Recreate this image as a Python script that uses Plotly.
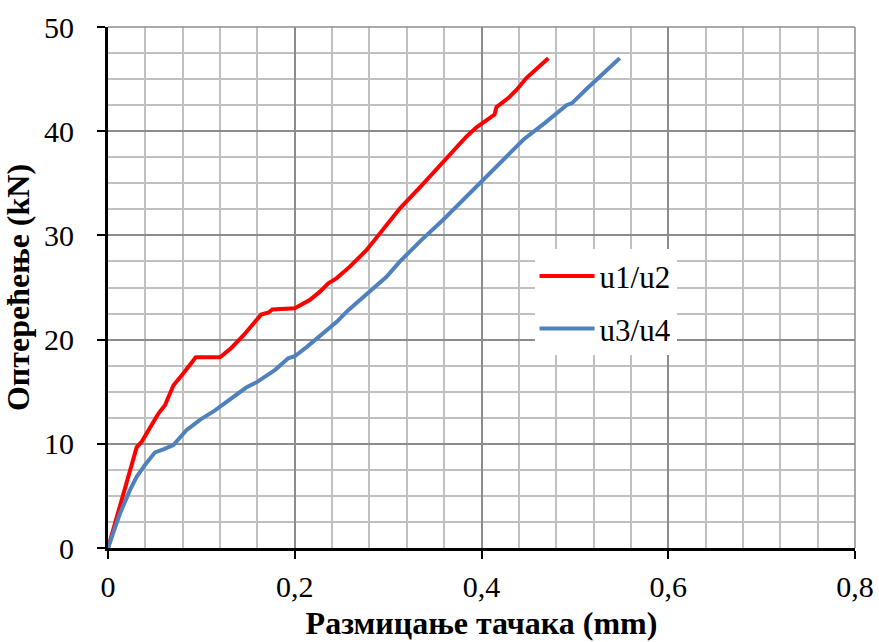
import plotly.graph_objects as go

# Load–displacement readings for the two gauge pairs
u12_disp = [0.0, 0.0234, 0.0307, 0.036, 0.043, 0.054, 0.061, 0.070, 0.081, 0.088, 0.094,
            0.120, 0.132, 0.145, 0.154, 0.164, 0.172, 0.176, 0.200, 0.216, 0.227, 0.236,
            0.245, 0.259, 0.277, 0.295, 0.3127, 0.336, 0.359, 0.384, 0.395, 0.411, 0.414,
            0.416, 0.422, 0.429, 0.438, 0.448, 0.4716]
u12_load = [0.0, 7.17, 9.66, 10.2, 11.3, 12.9, 13.7, 15.6, 16.8, 17.6, 18.3,
            18.3, 19.2, 20.4, 21.3, 22.4, 22.6, 22.9, 23.0, 23.8, 24.6, 25.4,
            25.9, 27.0, 28.6, 30.6, 32.6, 34.8, 37.1, 39.5, 40.4, 41.4, 41.6,
            42.3, 42.7, 43.2, 44.0, 45.1, 47.0]

u34_disp = [0.0, 0.0129, 0.0236, 0.0307, 0.0396, 0.0503, 0.0592, 0.070, 0.084, 0.0985,
            0.1146, 0.127, 0.141, 0.148, 0.159, 0.179, 0.193, 0.200, 0.213, 0.227, 0.245,
            0.257, 0.277, 0.298, 0.3127, 0.335, 0.359, 0.398, 0.420, 0.445, 0.468, 0.491,
            0.497, 0.513, 0.548]
u34_load = [0.0, 3.33, 5.57, 6.84, 7.97, 9.18, 9.47, 9.88, 11.3, 12.3,
            13.2, 14.0, 15.0, 15.4, 15.9, 17.1, 18.2, 18.4, 19.3, 20.4, 21.7,
            22.8, 24.4, 26.0, 27.5, 29.5, 31.5, 35.0, 36.9, 39.2, 40.8, 42.5,
            42.7, 44.1, 47.0]

x_ticks = [0, 0.2, 0.4, 0.6, 0.8]
x_tick_text = ["0", "0,2", "0,4", "0,6", "0,8"]
y_ticks = [0, 10, 20, 30, 40, 50]

FONT = "Liberation Serif"

fig = go.Figure()
fig.add_trace(go.Scatter(x=u12_disp, y=u12_load, mode="lines", name="u1/u2",
                         legendgroup="a",
                         line=dict(color="#FF0000", width=4)))
fig.add_trace(go.Scatter(x=u34_disp, y=u34_load, mode="lines", name="u3/u4",
                         legendgroup="b",
                         line=dict(color="#4F81BD", width=4)))

fig.update_layout(
    width=879, height=642,
    margin=dict(l=108, r=24, t=27, b=94, autoexpand=False),
    paper_bgcolor="white", plot_bgcolor="white",
    font=dict(family=FONT, size=30, color="black"),
    showlegend=True,
    legend=dict(x=0.571, y=0.573, xanchor="left", yanchor="top",
                bgcolor="white", borderwidth=0,
                font=dict(family=FONT, size=31, color="black"),
                tracegroupgap=9, itemwidth=55),
)

fig.update_xaxes(
    range=[0, 0.8], tickvals=x_ticks, ticktext=x_tick_text,
    showgrid=True, gridcolor="#8c8c8c", gridwidth=1.5,
    minor=dict(dtick=0.04, showgrid=True, gridcolor="#c0c0c0", gridwidth=1.5),
    showline=True, linecolor="black", linewidth=3,
    ticks="outside", ticklen=8, tickwidth=2, tickcolor="black",
    ticklabelstandoff=2,
    zeroline=False, automargin=False,
    tickfont=dict(family=FONT, size=30),
    title=dict(text="<b>Размицање тачака (mm)</b>", standoff=10,
               font=dict(family=FONT, size=32)),
)
fig.update_yaxes(
    range=[0, 50], tickvals=y_ticks,
    showgrid=True, gridcolor="#8c8c8c", gridwidth=1.5,
    minor=dict(dtick=2.5, showgrid=True, gridcolor="#c0c0c0", gridwidth=1.5),
    showline=True, linecolor="black", linewidth=3,
    ticks="outside", ticklen=8, tickwidth=2, tickcolor="black",
    ticklabelstandoff=17,
    zeroline=False, automargin=False,
    tickfont=dict(family=FONT, size=30),
    title=dict(text="<b>Оптерећење (kN)</b>", standoff=7,
               font=dict(family=FONT, size=32)),
)

# gray frame on the top and right edges of the plotting area
fig.add_shape(type="line", xref="paper", yref="paper", x0=0, x1=1, y0=1, y1=1,
              line=dict(color="#8c8c8c", width=1.5))
fig.add_shape(type="line", xref="paper", yref="paper", x0=1, x1=1, y0=0, y1=1,
              line=dict(color="#8c8c8c", width=1.5))

fig.write_html("out.html")
